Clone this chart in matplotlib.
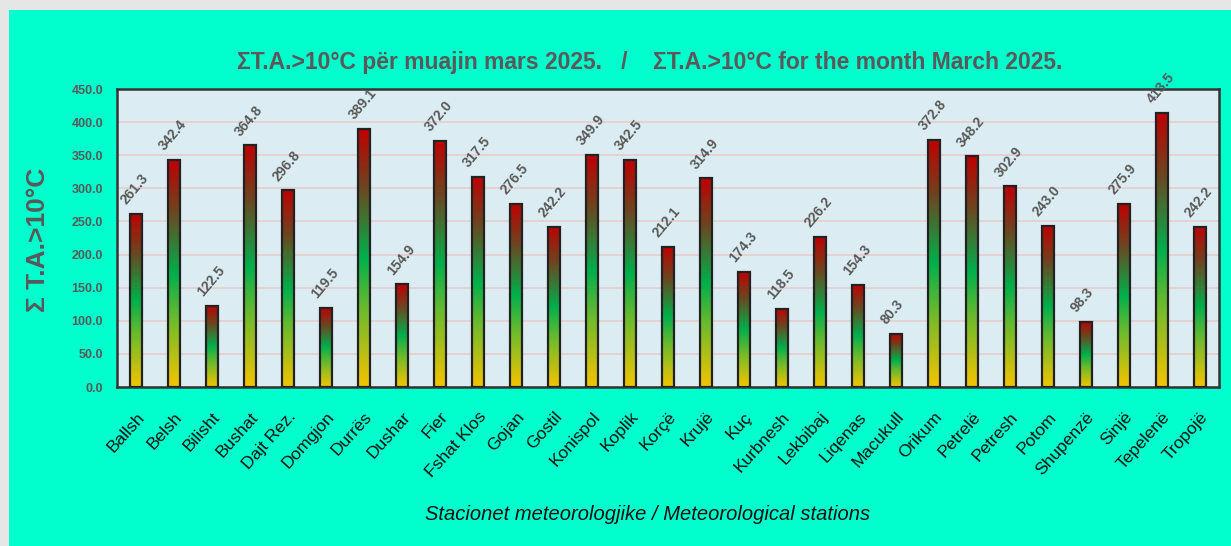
import numpy as np
import matplotlib
matplotlib.use("Agg")
import matplotlib.pyplot as plt
from matplotlib.colors import LinearSegmentedColormap
from matplotlib.patches import Rectangle

stations = ["Ballsh", "Belsh", "Bilisht", "Bushat", "Dajt Rez.", "Domgjon", "Durrës",
            "Dushar", "Fier", "Fshat Klos", "Gojan", "Gostil", "Konispol", "Koplik",
            "Korçë", "Krujë", "Kuç", "Kurbnesh", "Lekbibaj", "Liqenas", "Macukull",
            "Orikum", "Petrelë", "Petresh", "Potom", "Shupenzë", "Sinjë", "Tepelenë",
            "Tropojë"]
sum_ta = [261.3, 342.4, 122.5, 364.8, 296.8, 119.5, 389.1, 154.9, 372.0, 317.5,
          276.5, 242.2, 349.9, 342.5, 212.1, 314.9, 174.3, 118.5, 226.2, 154.3,
          80.3, 372.8, 348.2, 302.9, 243.0, 98.3, 275.9, 413.5, 242.2]
yticks = np.arange(0, 451, 50)

narrow = ["Liberation Sans Narrow", "Liberation Sans", "DejaVu Sans"]
grey = "#595959"

fig = plt.figure(figsize=(12.31, 5.46), dpi=100)
fig.patch.set_facecolor("#e6e6e6")
# aqua card over the grey page
card = Rectangle((9 / 1231, 0), 1 - 9 / 1231, 1 - 10 / 546,
                 transform=fig.transFigure, facecolor="#00ffcc",
                 edgecolor="none", zorder=-5)
fig.patches.append(card)

ax = fig.add_axes([117 / 1231, 1 - 387 / 546, (1219 - 117) / 1231, (387 - 89) / 546])
ax.set_zorder(2)
ax.set_facecolor("#dbedf2")

cmap = LinearSegmentedColormap.from_list(
    "ta", [(0.0, "#f5c400"), (0.3, "#6cba2c"), (0.5, "#00b04c"),
           (0.78, "#6e4420"), (1.0, "#c00000")])
grad = np.linspace(0, 1, 256).reshape(-1, 1)

x = np.arange(len(stations))
w = 0.32
for xi, v in zip(x, sum_ta):
    ax.imshow(grad, cmap=cmap, origin="lower", aspect="auto",
              extent=[xi - w / 2, xi + w / 2, 0, v], zorder=3)
bars = ax.bar(x, sum_ta, width=w, facecolor="none", edgecolor="#222222",
              linewidth=1.6, zorder=4)

for xi, v in zip(x, sum_ta):
    ax.annotate(f"{v:.1f}", (xi, v), xytext=(-5, 5), textcoords="offset points",
                rotation=50, ha="left", va="bottom", rotation_mode="anchor",
                fontsize=10, fontweight="bold", color=grey, family=narrow, zorder=5,
                annotation_clip=False)

ax.set_xlim(-0.5, len(stations) - 0.5)
ax.set_ylim(0, 450)
ax.set_yticks(yticks)
ax.set_yticklabels([f"{t:.1f}" for t in yticks], fontsize=9, fontweight="bold",
                   color=grey, family=narrow)
ax.set_xticks(x)
ax.set_xticklabels(stations, rotation=48, ha="right", rotation_mode="anchor",
                   fontsize=12.5, family=narrow, color="#111111")
ax.tick_params(axis="x", length=0, pad=16)
ax.tick_params(axis="y", length=0, pad=10)
ax.grid(axis="y", color="#e6cccc", linewidth=1.2, zorder=1)
ax.set_axisbelow(True)
for s in ax.spines.values():
    s.set_color("#333333")
    s.set_linewidth(1.8)

fig.text(650 / 1231, 1 - 62 / 546,
         "ΣT.A.>10°C për muajin mars 2025.   /    ΣT.A.>10°C for the month March 2025.",
         ha="center", va="center", fontsize=16.5, fontweight="bold", color=grey,
         family=narrow)
fig.text(38 / 1231, 1 - 240 / 546, "Σ T.A.>10°C", rotation=90, ha="center",
         va="center", fontsize=19, fontweight="bold", color=grey, family=narrow)
fig.text(648 / 1231, 1 - 514 / 546, "Stacionet meteorologjike / Meteorological stations",
         ha="center", va="center", fontsize=14.5, style="italic", color="#111111",
         family=narrow)

fig.savefig("out.png", dpi=100, facecolor=fig.get_facecolor())
